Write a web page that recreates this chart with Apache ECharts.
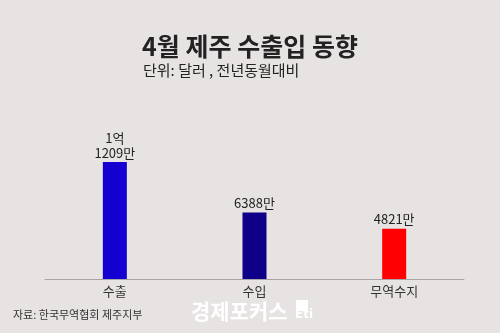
<!DOCTYPE html>
<html><head><meta charset="utf-8">
<script src="https://cdn.jsdelivr.net/npm/echarts@6/dist/echarts.min.js"></script>
<style>html,body{margin:0;padding:0;background:#e8e3e3}#c{width:500px;height:333px}</style>
</head><body><div id="c"></div>
<script>
const categories = ['수출', '수입', '무역수지'];
const values = [11209, 6388, 4821];
const valueLabels = ['1억\n1209만', '6388만', '4821만'];
const barColors = ['#1400d0', '#0e0088', '#ff0000'];

const chart = echarts.init(document.getElementById('c'), null, {renderer: 'canvas'});
const font = '"Noto Sans CJK KR", "Noto Sans", sans-serif';
chart.setOption({
  backgroundColor: '#e8e3e3',
  animation: false,
  title: [
    {text: '4월 제주 수출입 동향', left: 'center', top: 29,
     textStyle: {fontFamily: font, fontSize: 25, fontWeight: 'bold', color: '#222'}},
    {text: '단위: 달러 , 전년동월대비', left: 138, top: 58,
     textStyle: {fontFamily: font, fontSize: 15, fontWeight: 'normal', color: '#222'}},
    {text: '자료: 한국무역협회 제주지부', left: 8, top: 304,
     textStyle: {fontFamily: font, fontSize: 11, fontWeight: 'normal', color: '#333'}},
    {text: '경제포커스', left: 186, top: 296,
     textStyle: {fontFamily: font, fontSize: 21, fontWeight: 'bold', color: '#ffffff'}}
  ],
  graphic: [
    {type: 'rect', left: 296, top: 300, shape: {width: 12, height: 11}, style: {fill: '#ffffff'}},
    {type: 'text', left: 295, top: 309, style: {text: 'Eti', fill: '#ffffff', font: 'bold 12px "DejaVu Sans"'}}
  ],
  grid: {left: 45, right: 36, top: 133, bottom: 54},
  xAxis: {
    type: 'category', data: categories,
    axisLine: {lineStyle: {color: '#a8a4a6', width: 1}},
    axisTick: {show: false},
    axisLabel: {fontFamily: font, fontSize: 13, color: '#333', margin: 6}
  },
  yAxis: {type: 'value', min: 0, max: 14000, show: false, splitLine: {show: false}},
  series: [{
    type: 'bar', barWidth: 24,
    data: values.map((v, i) => ({value: v, itemStyle: {color: barColors[i]}})),
    label: {
      show: true, position: 'top', distance: 2,
      formatter: p => valueLabels[p.dataIndex],
      fontFamily: '"Liberation Sans Narrow", "Noto Sans CJK KR", sans-serif',
      fontSize: 13, color: '#222', lineHeight: 15
    }
  }]
});
</script></body></html>
